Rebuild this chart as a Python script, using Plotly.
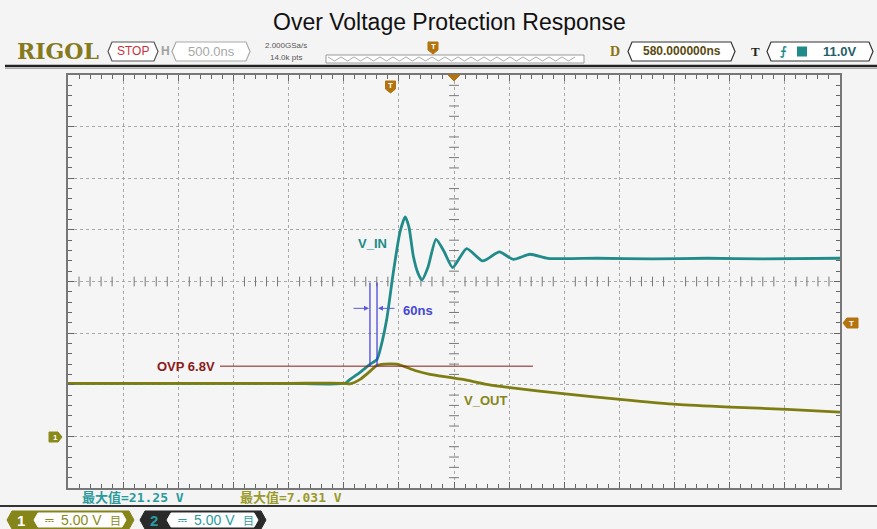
import plotly.graph_objects as go

# ---------------- data (time in ns relative to screen centre, volts) ----------------
vin_t = [-3500, -2500, -1500, -988, -943, -852, -762, -698, -653, -610, -550, -490,
         -442, -408, -369, -326, -290, -236, -163, -91, -12, 115, 260, 411, 538, 689,
         852, 1300, 1800, 2300, 2800, 3500]
vin_v = [5.14, 5.14, 5.14, 5.14, 5.52, 6.20, 6.98, 7.46, 9.11, 11.34, 15.89, 19.77,
         21.25, 20.25, 17.47, 15.79, 15.15, 16.38, 19.09, 17.93, 16.35, 18.19, 16.99,
         17.86, 17.15, 17.64, 17.25, 17.25, 17.2, 17.25, 17.2, 17.25]

vout_t = [-3500, -2500, -1500, -988, -943, -852, -762, -698, -626, -580, -517, -453,
          -338, -218, -36, 82, 297, 508, 988, 1505, 2022, 2503, 3020, 3500]
vout_v = [5.14, 5.14, 5.14, 5.14, 5.09, 5.52, 6.30, 6.88, 7.00, 7.031, 7.0, 6.78,
          6.33, 6.01, 5.72, 5.52, 5.04, 4.72, 4.14, 3.59, 3.10, 2.84, 2.62, 2.35]

ovp_level = 6.8
max_labels = ["最大值=21.25 V", "最大值=7.031 V"]
ch_scale = ["5.00 V", "5.00 V"]

TEAL = "#218b8a"
OLIVE = "#7d7d12"
ORANGE = "#b3730f"

W, H = 877, 529
L, R, T, B = 68, 840, 75, 488


def PX(x):
    return (x - L) / (R - L)


def PY(y):
    return (B - y) / (B - T)


def path(pts):
    return "M " + " L ".join(f"{PX(x):.5f},{PY(y):.5f}" for x, y in pts) + " Z"


fig = go.Figure()

# centre crosshair ticks
cx = [i * 100 for i in range(-34, 35) if i % 5 != 0]
cy = [i for i in range(-4, 35) if i % 5 != 0]
fig.add_trace(go.Scatter(x=cx, y=[15] * len(cx), mode="markers", hoverinfo="skip",
                         marker=dict(symbol="line-ns", size=7, line=dict(width=1, color="#777"))))
fig.add_trace(go.Scatter(x=[0] * len(cy), y=cy, mode="markers", hoverinfo="skip",
                         marker=dict(symbol="line-ew", size=7, line=dict(width=1, color="#777"))))

fig.add_trace(go.Scatter(x=vin_t, y=vin_v, mode="lines", line=dict(color=TEAL, width=2.8, shape="spline", smoothing=0.6)))
fig.add_trace(go.Scatter(x=vout_t, y=vout_v, mode="lines", line=dict(color=OLIVE, width=2.8, shape="spline", smoothing=0.6)))

shapes = []
ann = []


def pa(x, y, text, size, color, family="Liberation Sans", xanchor="center"):
    ann.append(dict(x=PX(x), y=PY(y), xref="paper", yref="paper", text=text, showarrow=False,
                    xanchor=xanchor, yanchor="middle",
                    font=dict(family=family, size=size, color=color)))


# OVP line
shapes.append(dict(type="line", xref="x", yref="y", x0=-2122, x1=716, y0=ovp_level, y1=ovp_level,
                   line=dict(color="#8b1a1a", width=1)))
ann.append(dict(x=-2150, y=ovp_level, xref="x", yref="y", text=f"<b>OVP {ovp_level}V</b>", showarrow=False,
                xanchor="right", yanchor="middle", font=dict(family="Liberation Sans", size=13, color="#8b1a1a")))
# 60ns cursor lines
for xv in (-762, -698):
    shapes.append(dict(type="line", xref="x", yref="y", x0=xv, x1=xv, y0=6.8, y1=14.9,
                       line=dict(color="#3b3bd6", width=1.2)))
ann.append(dict(x=-771, y=12.4, ax=-925, ay=12.4, xref="x", yref="y", axref="x", ayref="y", text="",
                showarrow=True, arrowhead=2, arrowsize=1, arrowwidth=1, arrowcolor="#5a5ae0"))
ann.append(dict(x=-689, y=12.4, ax=-526, ay=12.4, xref="x", yref="y", axref="x", ayref="y", text="",
                showarrow=True, arrowhead=2, arrowsize=1, arrowwidth=1, arrowcolor="#5a5ae0"))
ann.append(dict(x=-326, y=12.2, xref="x", yref="y", text="<b>60ns</b>", showarrow=False,
                xanchor="center", yanchor="middle",
                font=dict(family="Liberation Sans", size=13, color="#4646d8")))
ann.append(dict(x=-735, y=18.7, xref="x", yref="y", text="<b>V_IN</b>", showarrow=False,
                xanchor="center", yanchor="middle",
                font=dict(family="Liberation Sans", size=13, color=TEAL)))
ann.append(dict(x=290, y=3.49, xref="x", yref="y", text="<b>V_OUT</b>", showarrow=False,
                xanchor="center", yanchor="middle",
                font=dict(family="Liberation Sans", size=13, color="#86861a")))

# title
pa(449, 22, "Over Voltage Protection Response", 23, "#111")

# header
shapes.append(dict(type="line", xref="paper", yref="paper", x0=PX(5), x1=PX(877), y0=PY(66), y1=PY(66),
                   line=dict(color="#222", width=2.5)))
shapes.append(dict(type="line", xref="paper", yref="paper", x0=PX(5), x1=PX(877), y0=PY(68.5), y1=PY(68.5),
                   line=dict(color="#aaa", width=1)))
pa(58, 51, "<b>RIGOL</b>", 22, "#857a1c", family="DejaVu Serif")


def box(x0, x1, y0, y1, col, fill="white", w=1.2):
    ym = (y0 + y1) / 2
    shapes.append(dict(type="path", xref="paper", yref="paper",
                       path=path([(x0, ym), (x0 + 4, y0), (x1 - 4, y0), (x1, ym), (x1 - 4, y1), (x0 + 4, y1)]),
                       line=dict(color=col, width=w), fillcolor=fill))


box(108, 158, 42, 61, "#555")
pa(133, 51.5, "STOP", 12, "#c8323c")
pa(165, 51.5, "<b>H</b>", 12, "#a0a0a0")
box(172, 250, 42, 61, "#aaa")
pa(211, 51.5, "500.0ns", 13, "#a8a8a8")
pa(286, 46, "2.000GSa/s", 8, "#555")
pa(286, 57, "14.0k pts", 8, "#555")
shapes.append(dict(type="rect", xref="paper", yref="paper", x0=PX(326), x1=PX(584), y0=PY(55), y1=PY(63),
                   line=dict(color="#999", width=1), fillcolor="white"))
zz = []
xx = 328
up = True
while xx <= 580:
    zz.append(f"{PX(xx):.5f},{PY(57 if up else 61):.5f}")
    up = not up
    xx += 6.5
shapes.append(dict(type="path", xref="paper", yref="paper", path="M " + " L ".join(zz),
                   line=dict(color="#aaa", width=1)))


def shield(cx_, cy_, label="T"):
    shapes.append(dict(type="path", xref="paper", yref="paper",
                       path=path([(cx_ - 5, cy_ - 6), (cx_ + 5, cy_ - 6), (cx_ + 5, cy_ + 2), (cx_, cy_ + 6),
                                  (cx_ - 5, cy_ + 2)]),
                       line=dict(color=ORANGE, width=1), fillcolor=ORANGE))
    pa(cx_, cy_ - 1, f"<b>{label}</b>", 8, "white")


shield(433, 48)
shield(390.5, 87)
shapes.append(dict(type="path", xref="paper", yref="paper", path=path([(448, 75), (460, 75), (454, 81)]),
                   line=dict(color=ORANGE, width=1), fillcolor=ORANGE))

pa(615, 51.5, "<b>D</b>", 14, "#8b7012", family="Liberation Serif")
box(628, 735, 42, 61, "#333")
pa(681.5, 51.5, "<b>580.000000ns</b>", 12, "#5a4a10")
pa(755, 51.5, "<b>T</b>", 13, "#222", family="Liberation Serif")
box(767, 873, 42, 61, "#333")
pa(783, 51.5, "<b>⨍</b>", 12, TEAL, family="DejaVu Sans")
shapes.append(dict(type="rect", xref="paper", yref="paper", x0=PX(797), x1=PX(807), y0=PY(46.5), y1=PY(56.5),
                   line=dict(color=TEAL, width=0), fillcolor=TEAL))
pa(840, 51.5, "<b>11.0V</b>", 13, "#1f5f6a")

# side markers
shapes.append(dict(type="path", xref="paper", yref="paper",
                   path=path([(49, 432), (58, 432), (62, 437), (58, 442), (49, 442)]),
                   line=dict(color="#8a8a18", width=1), fillcolor="#8a8a18"))
pa(55, 437, "<b>1</b>", 8, "white")
shapes.append(dict(type="path", xref="paper", yref="paper",
                   path=path([(843, 323), (847, 318), (858, 318), (858, 328), (847, 328)]),
                   line=dict(color=ORANGE, width=1), fillcolor=ORANGE))
pa(851.5, 323, "<b>T</b>", 8, "white")

# bottom max values
pa(80, 497, f"<b>{max_labels[0]}</b>", 13, "#2a9a9c", family="DejaVu Sans Mono, Noto Sans CJK SC", xanchor="left")
pa(238, 497, f"<b>{max_labels[1]}</b>", 13, "#9a9a2a", family="DejaVu Sans Mono, Noto Sans CJK SC", xanchor="left")
shapes.append(dict(type="line", xref="paper", yref="paper", x0=PX(0), x1=PX(877), y0=PY(506), y1=PY(506),
                   line=dict(color="#333", width=2)))


def badge(x0, x1, dark, tcol, num, scale):
    ym = 520
    shapes.append(dict(type="path", xref="paper", yref="paper",
                       path=path([(x0, ym), (x0 + 5, 511), (x1 - 5, 511), (x1, ym), (x1 - 5, 529), (x0 + 5, 529)]),
                       line=dict(color=dark, width=1), fillcolor=dark))
    shapes.append(dict(type="path", xref="paper", yref="paper",
                       path=path([(x0 + 27, ym), (x0 + 31, 513), (x1 - 12, 513), (x1 - 8, ym), (x1 - 12, 527),
                                  (x0 + 31, 527)]),
                       line=dict(color="white", width=1), fillcolor="white"))
    pa(x0 + 14, ym, f"<b>{num}</b>", 15, tcol if num == "2" else "white")
    pa(x0 + 42, ym, "⎓", 11, tcol, family="DejaVu Sans")
    pa(x0 + 74, ym, scale, 14, tcol)
    pa(x0 + 108, ym, "目", 11, tcol, family="Noto Sans CJK SC")


badge(7, 134, "#85851a", "#8a8a18", "1", ch_scale[0])
badge(140, 266, "#2a2a2a", "#2a9ca0", "2", ch_scale[1])

axis_common = dict(showticklabels=False, showgrid=True, griddash="dot", gridcolor="#a8a8a8", gridwidth=1,
                   zeroline=False, showline=True, mirror="allticks", linecolor="#777", linewidth=1.5,
                   ticks="inside", ticklen=6, tickcolor="#666",
                   minor=dict(ticks="inside", ticklen=4, tickcolor="#666", showgrid=False))

fig.update_xaxes(range=[-3500, 3500], dtick=500, tick0=0, **axis_common)
fig.update_yaxes(range=[-5, 35], dtick=5, tick0=0, **axis_common)
fig.update_xaxes(minor_dtick=100)
fig.update_yaxes(minor_dtick=1)

fig.update_layout(width=W, height=H, margin=dict(l=L, r=W - R, t=T, b=H - B),
                  paper_bgcolor="#f4f4f4", plot_bgcolor="#f5f5f5", showlegend=False,
                  shapes=shapes, annotations=ann)

fig.write_html("out.html", config={"displayModeBar": False},
               post_script="document.body.style.margin='0';document.body.style.overflow='hidden';")
